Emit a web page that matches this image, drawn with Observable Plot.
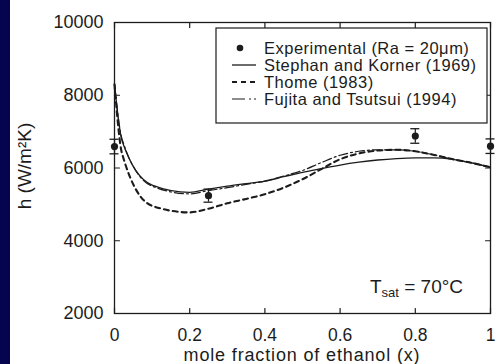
<!DOCTYPE html>
<html>
<head>
<meta charset="utf-8">
<script src="https://cdn.jsdelivr.net/npm/d3@7"></script>
<script src="https://cdn.jsdelivr.net/npm/@observablehq/plot@0.6"></script>
<style>
  html, body { margin: 0; padding: 0; background: #ffffff; }
  #chart { width: 499px; height: 364px; overflow: hidden; }
</style>
</head>
<body>
<div id="chart"></div>
<script>
// ---- data ----
const xGrid = [0, 0.02, 0.1, 0.2, 0.25, 0.3, 0.35, 0.4, 0.45, 0.5, 0.55, 0.6, 0.65, 0.7, 0.75, 0.8, 0.85, 0.9, 0.95, 1.0];
const stephanKorner = [8300, 6750, 5530, 5330, 5420, 5500, 5570, 5640, 5760, 5880, 5980, 6080, 6160, 6220, 6260, 6280, 6280, 6240, 6140, 6020];
const thome = [8300, 6400, 4960, 4780, 4880, 5030, 5150, 5280, 5460, 5690, 5970, 6240, 6400, 6480, 6500, 6460, 6360, 6240, 6140, 6020];
const fujitaTsutsui = [8300, 6800, 5500, 5290, 5380, 5460, 5550, 5640, 5780, 5930, 6150, 6350, 6460, 6500, 6500, 6460, 6360, 6240, 6140, 6020];

const expX = [0, 0.25, 0.8, 1.0];
const expH = [6590, 5240, 6880, 6600];
const expErr = [200, 180, 200, 200];

const xTicks = [0, 0.2, 0.4, 0.6, 0.8, 1];
const yTicks = [2000, 4000, 6000, 8000, 10000];

const legendLabels = ["Experimental (Ra = 20\u03bcm)", "Stephan and Korner (1969)", "Thome (1983)", "Fujita and Tsutsui (1994)"];
const xLabel = "mole fraction of ethanol (x)";
const yLabel = "h (W/m\u00b2K)";

// ---- tables built from the arrays ----
const series = (vals) => xGrid.map((x, i) => ({x, h: vals[i]}));
const exp = expX.map((x, i) => ({x, h: expH[i], lo: expH[i] - expErr[i], hi: expH[i] + expErr[i]}));

const FONT = "'Liberation Sans', Arial, Helvetica, sans-serif";
const INK = "#1c1c1c";

// straight tick shape for Plot.vector
const tickShape = {draw(context, l) { context.moveTo(0, 0); context.lineTo(0, -l); }};
const yMin = 2000, yMax = 10000;

const plot = Plot.plot({
  width: 499,
  height: 364,
  marginLeft: 114,
  marginRight: 9,
  marginTop: 22,
  marginBottom: 51,
  x: {domain: [0, 1]},
  y: {domain: [yMin, yMax]},
  style: {background: "transparent", fontFamily: FONT, fontSize: "18px", color: INK},
  marks: [
    // tick labels
    Plot.axisX({anchor: "bottom", ticks: xTicks, tickSize: 0, tickPadding: 15, tickFormat: d => String(d), label: null, fontSize: 17.5}),
    Plot.axisY({anchor: "left", ticks: yTicks, tickSize: 0, tickPadding: 11, tickFormat: d => String(d), label: null, fontSize: 18}),
    // inward ticks on all four sides
    Plot.vector(xTicks, {x: d => d, y: yMin, length: 5, rotate: 0, anchor: "start", shape: tickShape, stroke: INK, strokeWidth: 1.2}),
    Plot.vector(xTicks, {x: d => d, y: yMax, length: 5, rotate: 180, anchor: "start", shape: tickShape, stroke: INK, strokeWidth: 1.2}),
    Plot.vector(yTicks, {x: 0, y: d => d, length: 5, rotate: 90, anchor: "start", shape: tickShape, stroke: INK, strokeWidth: 1.2}),
    Plot.vector(yTicks, {x: 1, y: d => d, length: 5, rotate: -90, anchor: "start", shape: tickShape, stroke: INK, strokeWidth: 1.2}),
    Plot.frame({stroke: INK, strokeWidth: 1.3}),
    // model curves
    Plot.line(series(stephanKorner), {x: "x", y: "h", stroke: INK, strokeWidth: 1.3, curve: "monotone-x"}),
    Plot.line(series(thome), {x: "x", y: "h", stroke: INK, strokeWidth: 2.1, strokeDasharray: "5,4", curve: "monotone-x"}),
    Plot.line(series(fujitaTsutsui), {x: "x", y: "h", stroke: INK, strokeWidth: 1.2, strokeDasharray: "9,3,2,3", curve: "monotone-x"}),
    // experimental points with error bars
    Plot.ruleX(exp, {x: "x", y1: "lo", y2: "hi", stroke: INK, strokeWidth: 1.2}),
    Plot.ruleY(exp, {y: "lo", x1: "x", x2: "x", insetLeft: -4.5, insetRight: -4.5, stroke: INK, strokeWidth: 1.3}),
    Plot.ruleY(exp, {y: "hi", x1: "x", x2: "x", insetLeft: -4.5, insetRight: -4.5, stroke: INK, strokeWidth: 1.3}),
    Plot.dot(exp, {x: "x", y: "h", r: 3.6, fill: INK, stroke: "none"})
  ]
});

document.getElementById("chart").appendChild(plot);

const svg = d3.select(plot);

// left navy strip
svg.insert("rect", ":first-child")
  .attr("x", 0).attr("y", 0).attr("width", 10).attr("height", 364)
  .attr("fill", "#04044f");

// axis labels
svg.append("text")
  .attr("x", 302).attr("y", 360.5)
  .attr("text-anchor", "middle")
  .attr("font-family", FONT).attr("font-size", 18).attr("letter-spacing", 0.85)
  .attr("fill", INK)
  .text(xLabel);

svg.append("text")
  .attr("transform", "translate(31,166) rotate(-90)")
  .attr("text-anchor", "middle")
  .attr("font-family", FONT).attr("font-size", 19)
  .attr("fill", INK)
  .text(yLabel);

// T_sat annotation
const tsat = svg.append("text")
  .attr("x", 370).attr("y", 293)
  .attr("text-anchor", "start")
  .attr("font-family", FONT).attr("font-size", 19)
  .attr("fill", INK);
tsat.append("tspan").text("T");
tsat.append("tspan").attr("font-size", 13).attr("dy", 4).text("sat");
tsat.append("tspan").attr("dy", -4).text(" = 70\u00b0C");

// legend
const lg = svg.append("g");
lg.append("rect")
  .attr("x", 216).attr("y", 28).attr("width", 271).attr("height", 95)
  .attr("fill", "#ffffff").attr("stroke", INK).attr("stroke-width", 1.2);

const rowY = [48, 65, 82, 99];
const sampleStyles = [
  null,
  {w: 1.3, dash: null},
  {w: 2.1, dash: "5,4"},
  {w: 1.2, dash: "13,4,2,3"}
];
legendLabels.forEach((label, i) => {
  const cy = rowY[i];
  if (i === 0) {
    lg.append("circle").attr("cx", 240).attr("cy", cy).attr("r", 3.3).attr("fill", INK);
  } else {
    const s = sampleStyles[i];
    const ln = lg.append("line")
      .attr("x1", 232).attr("x2", 256).attr("y1", cy).attr("y2", cy)
      .attr("stroke", INK).attr("stroke-width", s.w);
    if (s.dash) ln.attr("stroke-dasharray", s.dash);
  }
  lg.append("text")
    .attr("x", 264).attr("y", cy + 6)
    .attr("text-anchor", "start")
    .attr("font-family", FONT).attr("font-size", 16.5).attr("letter-spacing", 0.5)
    .attr("fill", INK)
    .text(label);
});
</script>
</body>
</html>
